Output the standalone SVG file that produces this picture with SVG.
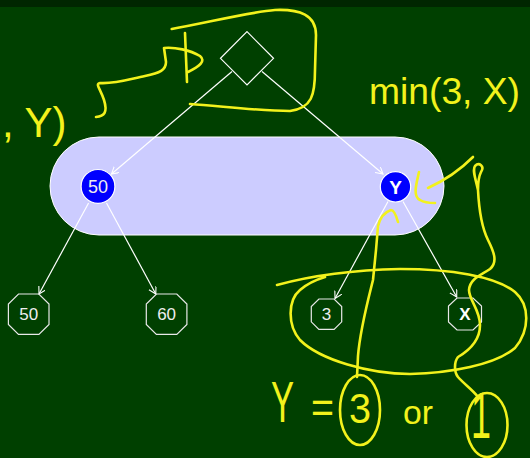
<svg xmlns="http://www.w3.org/2000/svg" width="530" height="458" viewBox="0 0 530 458">
<style>
.edge{stroke:#ffffff;stroke-width:1.2;fill:none;marker-end:url(#arr)}
.oct{fill:none;stroke:#e8e8e8;stroke-width:1.2}
.circ{fill:#0000ff;stroke:#ffffff;stroke-width:1.2}
.lbl{font-family:"Liberation Sans",Arial,sans-serif;fill:#eeeeee;text-anchor:middle}
.b{font-weight:bold;fill:#ffffff}
.ink{fill:none;stroke:#f2f21c;stroke-width:2.6;stroke-linecap:round;stroke-linejoin:round}
.hw{font-family:"Liberation Sans",Arial,sans-serif;fill:#f2f21c}
</style>
<defs>
<marker id="arr" markerUnits="userSpaceOnUse" markerWidth="10" markerHeight="10" refX="7" refY="4" orient="auto">
<path d="M0,0 L7,4 L0,8" fill="none" stroke="#ffffff" stroke-width="1.1"/>
</marker>
</defs>
<rect x="0" y="0" width="530" height="458" fill="#004000"/>
<rect x="0" y="0" width="530" height="7" fill="#002600"/>

<g id="group">
<rect x="50" y="137" width="394" height="98" rx="49" ry="49" fill="#ccccff" stroke="#ffffff" stroke-width="1"/>
</g>

<g id="connectors">
<line class="edge" x1="232" y1="71.5" x2="111.5" y2="174"/>
<line class="edge" x1="262" y1="71.5" x2="383" y2="174"/>
<line class="edge" x1="88.6" y1="203" x2="39" y2="294"/>
<line class="edge" x1="106.5" y1="203" x2="155.8" y2="294"/>
<line class="edge" x1="388" y1="201.5" x2="335" y2="298.5"/>
<line class="edge" x1="403" y1="201.5" x2="456.7" y2="297"/>
</g>

<g id="root">
<polygon points="247,31.7 273.5,58.3 247,85 220.5,58.3" fill="none" stroke="#ffffff" stroke-width="1.2"/>
</g>

<g id="n50">
<circle class="circ" cx="98" cy="186.4" r="16.9"/>
<text class="lbl" x="98" y="192.8" font-size="18">50</text>
</g>
<g id="nY">
<circle class="circ" cx="395.5" cy="186.8" r="15.2"/>
<text class="lbl b" x="395.5" y="193.6" font-size="19">Y</text>
</g>

<g id="leaf50">
<polygon class="oct" points="18.5,294 38.9,294 49,304 49,324.4 38.9,334.4 18.5,334.4 8.4,324.4 8.4,304"/>
<text class="lbl" x="28.7" y="320.4" font-size="17">50</text>
</g>
<g id="leaf60">
<polygon class="oct" points="156.4,294 176.8,294 186.9,304 186.9,324.4 176.8,334.4 156.4,334.4 146.3,324.4 146.3,304"/>
<text class="lbl" x="166.6" y="320.4" font-size="17">60</text>
</g>
<g id="leaf3">
<polygon class="oct" points="318.9,299 334.1,299 341.7,306.6 341.7,321.8 334.1,329.4 318.9,329.4 311.3,321.8 311.3,306.6"/>
<text class="lbl" x="326.5" y="320.4" font-size="17">3</text>
</g>
<g id="leafX">
<polygon class="oct" points="457,298 473,298 481.5,306 481.5,322 473,330 457,330 448.5,322 448.5,306"/>
<text class="lbl b" x="465" y="320.2" font-size="17">X</text>
</g>

<g id="annotations">
<path class="ink" d="M171.7,29 C210,22 250,12 275,10 C300,9 316,15 316,35 L315,70 C315,95 312,108 290,111 C260,111 220,106 190,104"/>
<path class="ink" d="M96,117 C104,116 108,113 104,100 C100,88 95,84 100,83 C115,84 130,79 145,76 C160,73 166,70 166,62 L164,48 C175,47 190,50 200,56 C206,61 200,66 188,72"/>
<path class="ink" d="M185,33 L187,82"/>
<path class="ink" d="M473,157 C462,168 450,178 428,188"/>
<path class="ink" d="M419,172 C417,182 412,196 420,200 C425,203 430,203 435,203"/>
<path class="ink" d="M398,222 C396,215 394,210 391,210 C385,212 380,218 378,226 L376,250 L373,280 C368,300 360,330 358,356 L357,377"/>
<path class="ink" d="M478,190 C476,180 472,170 475,166 C479,162 485,166 481,172 C479,176 478,180 478,190 C479,210 482,228 488,240 C494,252 498,262 490,269 C482,275 470,278 469,290 C469,300 480,310 480,325 C480,340 470,350 458,357 C454,362 454,372 458,377 C464,384 473,390 478,397"/>
<path class="ink" d="M277,285 C310,276 350,270 400,269 C450,269 495,276 515,292 C530,305 530,330 515,348 C495,365 450,373 410,374 C370,374 320,360 300,340 C287,325 288,300 300,290 C308,283 315,280 325,277"/>
<ellipse class="ink" cx="360" cy="410" rx="20" ry="35"/>
<ellipse class="ink" cx="487" cy="425" rx="20.5" ry="32"/>
<text class="hw" x="2" y="137" font-size="42">, Y)</text>
<text class="hw" x="369" y="104" font-size="37" textLength="151" lengthAdjust="spacingAndGlyphs">min(3, X)</text>
<text class="hw" x="271" y="422" font-size="58" textLength="23" lengthAdjust="spacingAndGlyphs">Y</text>
<text class="hw" x="311" y="423" font-size="44" textLength="23" lengthAdjust="spacingAndGlyphs">=</text>
<text class="hw" x="349" y="423" font-size="43" textLength="22" lengthAdjust="spacingAndGlyphs">3</text>
<text class="hw" x="403" y="424" font-size="33" textLength="30" lengthAdjust="spacingAndGlyphs">or</text>
<text class="hw" x="471" y="438" font-size="64" textLength="20" lengthAdjust="spacingAndGlyphs">1</text>
</g>
</svg>
